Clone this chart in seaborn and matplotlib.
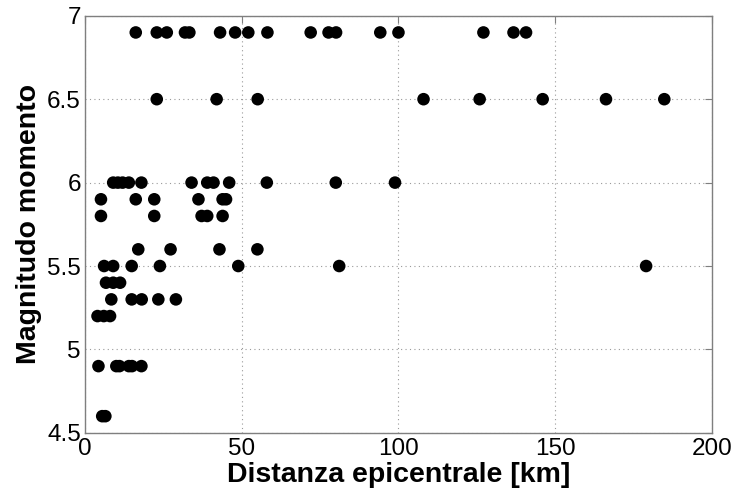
import matplotlib
matplotlib.use("Agg")
import matplotlib.pyplot as plt
import pandas as pd
import seaborn as sns

# Moment magnitude rows and the epicentral distances (km) observed at each
MAG_69 = [16.2, 22.9, 26.1, 31.9, 33.3, 43.1, 47.9, 52.1, 58.2, 72.0, 77.7, 80.1,
          94.2, 100.0, 127.1, 136.7, 140.7]
MAG_65 = [22.9, 42.0, 55.1, 108.0, 125.9, 146.0, 166.2, 184.8]
MAG_60 = [9.0, 10.5, 12.0, 14.0, 18.0, 34.0, 39.0, 41.0, 46.0, 58.0, 80.0, 98.9]
MAG_59 = [5.1, 16.2, 22.1, 36.2, 43.9, 45.0]
MAG_58 = [5.1, 22.1, 37.2, 39.0, 43.9]
MAG_56 = [17.0, 27.3, 42.9, 55.0]
MAG_55 = [6.1, 9.0, 14.9, 23.9, 48.9, 81.1, 179.0]
MAG_54 = [6.7, 9.0, 11.2]
MAG_53 = [8.4, 14.9, 18.1, 23.4, 29.0]
MAG_52 = [4.0, 6.0, 8.0]
MAG_49 = [4.3, 10.0, 11.0, 14.0, 15.0, 18.0]
MAG_46 = [5.5, 6.5]

ROWS = {6.9: MAG_69, 6.5: MAG_65, 6.0: MAG_60, 5.9: MAG_59, 5.8: MAG_58,
        5.6: MAG_56, 5.5: MAG_55, 5.4: MAG_54, 5.3: MAG_53, 5.2: MAG_52,
        4.9: MAG_49, 4.6: MAG_46}

X_TICKS = [0, 50, 100, 150, 200]
Y_TICKS = [4.5, 5, 5.5, 6, 6.5, 7]
Y_TICK_LABELS = ["4.5", "5", "5.5", "6", "6.5", "7"]


def main() -> None:
    df = pd.DataFrame(
        [(d, m) for m, dists in ROWS.items() for d in dists],
        columns=["distanza", "magnitudo"],
    )

    sns.set_style("white")
    plt.rcParams["font.family"] = ["Liberation Sans", "DejaVu Sans"]
    plt.rcParams["text.color"] = "black"
    plt.rcParams["axes.labelcolor"] = "black"
    plt.rcParams["xtick.color"] = "black"
    plt.rcParams["ytick.color"] = "black"

    fig = plt.figure(figsize=(7.37, 4.93), dpi=100)
    ax = fig.add_axes([0.1153, 0.122, 0.8507, 0.846])

    sns.scatterplot(data=df, x="distanza", y="magnitudo", color="black",
                    s=82, edgecolor="none", ax=ax, zorder=3)

    ax.set_xlim(0, 200)
    ax.set_ylim(4.5, 7)
    ax.set_xticks(X_TICKS)
    ax.set_yticks(Y_TICKS)
    ax.set_yticklabels(Y_TICK_LABELS)
    ax.grid(True, linestyle=(0, (1, 3)), color="#9a9a9a", linewidth=0.8)
    ax.set_axisbelow(True)

    for sp in ax.spines.values():
        sp.set_color("#7f7f7f")
        sp.set_linewidth(1.0)
    ax.tick_params(direction="in", length=5, width=0.8, color="#7f7f7f",
                   labelcolor="black", top=True, right=True, labelsize=17.5)
    ax.tick_params(axis="x", pad=4)
    ax.tick_params(axis="y", pad=3)

    ax.set_xlabel("Distanza epicentrale [km]", fontsize=20.5, fontweight="bold",
                  labelpad=1)
    ax.set_ylabel("Magnitudo momento", fontsize=20.5, fontweight="bold",
                  labelpad=4)

    fig.savefig("out.png", dpi=100)
    plt.close(fig)


if __name__ == "__main__":
    main()
